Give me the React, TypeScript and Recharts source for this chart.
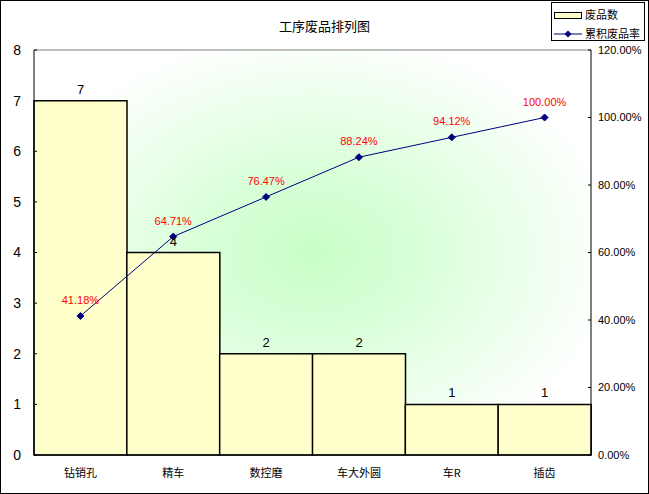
import {
  Bar,
  CartesianGrid,
  ComposedChart,
  LabelList,
  Line,
  ReferenceLine,
  XAxis,
  YAxis,
} from 'recharts';

const processes = ['钻销孔', '精车', '数控磨', '车大外圆', '车R', '插齿'];
const defectCounts = [7, 4, 2, 2, 1, 1];
const cumulativeRates = [0.4118, 0.6471, 0.7647, 0.8824, 0.9412, 1.0];
const countTicks = [0, 1, 2, 3, 4, 5, 6, 7, 8];
const rateTicks = [0, 0.2, 0.4, 0.6, 0.8, 1.0, 1.2];

const data = processes.map((name, i) => ({
  name,
  count: defectCounts[i],
  rate: cumulativeRates[i],
}));

const NAVY = '#000080';
const FONT = 'Arial, "Liberation Sans", "Noto Sans CJK SC", sans-serif';
const CJK = '"Noto Sans CJK SC", sans-serif';

const pct = (v: number) => `${(v * 100).toFixed(2)}%`;

function Diamond(props: any) {
  const { cx, cy } = props;
  if (cx == null || cy == null) return null;
  const r = 3.5;
  return (
    <polygon
      points={`${cx},${cy - r} ${cx + r},${cy} ${cx},${cy + r} ${cx - r},${cy}`}
      fill={NAVY}
      stroke={NAVY}
    />
  );
}

export default function App() {
  return (
    <div
      style={{
        position: 'absolute',
        left: 0,
        top: 0,
        width: 649,
        height: 494,
        border: '1px solid #000',
        boxSizing: 'border-box',
        background: '#fff',
      }}
    >
      <div
        style={{
          position: 'absolute',
          left: 0,
          width: 647,
          top: 16,
          textAlign: 'center',
          fontFamily: CJK,
          fontSize: 13,
          lineHeight: '18px',
          color: '#000',
        }}
      >
        工序废品排列图
      </div>

      <div
        style={{
          position: 'absolute',
          left: 550,
          top: 1,
          width: 94,
          height: 39,
          border: '1px solid #000',
          boxSizing: 'border-box',
          background: '#fff',
          fontFamily: CJK,
          fontSize: 11,
        }}
      >
        <div style={{ position: 'absolute', left: 2, top: 9, width: 26, height: 5, background: '#FFFFCC', border: '1px solid #000' }} />
        <div style={{ position: 'absolute', left: 33, top: 3, lineHeight: '16px' }}>废品数</div>
        <svg style={{ position: 'absolute', left: 2, top: 26 }} width={28} height={10}>
          <line x1={0} y1={5} x2={28} y2={5} stroke={NAVY} strokeWidth={1} />
          <polygon points="14,1.5 17.5,5 14,8.5 10.5,5" fill={NAVY} />
        </svg>
        <div style={{ position: 'absolute', left: 33, top: 22, lineHeight: '16px' }}>累积废品率</div>
      </div>

      <ComposedChart
        width={647}
        height={492}
        data={data}
        margin={{ top: 49, right: 0, bottom: 0, left: 0 }}
        barCategoryGap={0}
      >
        <defs>
          <radialGradient id="plotBg" cx="50%" cy="50%" r="55%">
            <stop offset="0%" stopColor="#C8FFC8" />
            <stop offset="35%" stopColor="#D8FFD8" />
            <stop offset="100%" stopColor="#FFFFFF" />
          </radialGradient>
        </defs>
        <CartesianGrid horizontal={false} vertical={false} fill="url(#plotBg)" />
        <XAxis
          dataKey="name"
          height={38}
          tickLine={false}
          tickMargin={8}
          axisLine={{ stroke: '#000', strokeWidth: 1 }}
          tick={{ fill: '#000', fontSize: 11, fontFamily: CJK }}
          interval={0}
        />
        <YAxis
          yAxisId="left"
          orientation="left"
          width={33}
          domain={[0, 8]}
          ticks={countTicks}
          interval={0}
          tickSize={-3}
          tickMargin={16}
          tickLine={{ stroke: '#000' }}
          axisLine={{ stroke: '#000', strokeWidth: 1 }}
          tick={{ fill: '#000', fontSize: 14, fontFamily: FONT }}
        />
        <YAxis
          yAxisId="right"
          orientation="right"
          width={57}
          domain={[0, 1.2]}
          ticks={rateTicks}
          interval={0}
          tickSize={-3}
          tickMargin={10}
          tickFormatter={pct}
          tickLine={{ stroke: '#000' }}
          axisLine={{ stroke: '#000', strokeWidth: 1 }}
          tick={{ fill: '#000', fontSize: 11, fontFamily: FONT }}
        />
        <ReferenceLine yAxisId="left" y={8} stroke="#808080" />
        <Bar
          yAxisId="left"
          dataKey="count"
          fill="#FFFFCC"
          stroke="#000"
          strokeWidth={1.5}
          isAnimationActive={false}
        >
          <LabelList
            dataKey="count"
            position="top"
            offset={7}
            fill="#000"
            fontSize={13}
            fontFamily={FONT}
          />
        </Bar>
        <Line
          yAxisId="right"
          dataKey="rate"
          stroke={NAVY}
          strokeWidth={1}
          dot={<Diamond />}
          activeDot={false}
          isAnimationActive={false}
        >
          <LabelList
            dataKey="rate"
            position="top"
            offset={12}
            formatter={(v: any) => pct(Number(v))}
            fill="#FF0000"
            fontSize={11}
            fontFamily={FONT}
          />
        </Line>
      </ComposedChart>
    </div>
  );
}
